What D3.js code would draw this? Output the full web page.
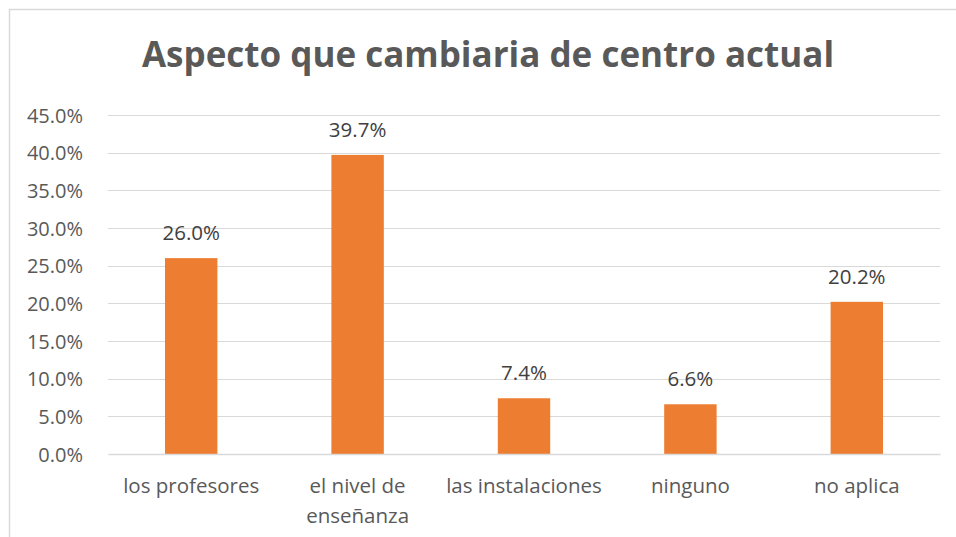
<!DOCTYPE html>
<html>
<head>
    <meta charset="utf-8">
    <style>
        body{ margin: 0; background: white; }
        svg{ display: block; }
        .grid .tick line{ stroke: #d9d9d9; stroke-width: 1px; shape-rendering: crispEdges; }
        .grid path{ stroke-width: 0; }
        .y-axis path, .y-axis line{ display: none; }
        .y-axis text{ font-family: "Open Sans", sans-serif; font-size: 20px; fill: #595959; }
        .x-axis path{ stroke: #d9d9d9; stroke-width: 1.5px; }
        .x-axis line{ display: none; }
        .x-axis text{ font-family: "Open Sans", sans-serif; font-size: 20.5px; fill: #595959; }
    </style>
</head>
<body>
    <svg class="vis"></svg>

    <script src="https://cdn.jsdelivr.net/npm/d3@7"></script>
    <script>
        var categories = ["los profesores", "el nivel de enseñanza", "las instalaciones", "ninguno", "no aplica"];
        var values = [26.0, 39.7, 7.4, 6.6, 20.2];
        var yTicks = [0, 5, 10, 15, 20, 25, 30, 35, 40, 45];
        var title = "Aspecto que cambiaria de centro actual";

        var width = 956;
        var height = 537;
        var margin = {left: 108, right: 16, top: 115, bottom: 83};

        var vis = d3.select("svg.vis")
            .attr("width", width)
            .attr("height", height);

        // chart frame (only top/left edges show in the crop)
        vis.append("rect")
            .attr("x", 9.5).attr("y", 9.5)
            .attr("width", width + 20).attr("height", height + 20)
            .attr("fill", "white")
            .attr("stroke", "#d9d9d9")
            .attr("stroke-width", 1.5);

        var x = d3.scaleBand()
            .domain(categories)
            .range([margin.left, width - margin.right])
            .paddingInner(0.685)
            .paddingOuter(0.3425);

        var y = d3.scaleLinear()
            .domain([0, 45])
            .range([height - margin.bottom, margin.top]);

        vis.append("g")
            .attr("class", "grid")
            .attr("transform", `translate(${margin.left},0)`)
            .call(d3.axisLeft(y).tickValues(yTicks.slice(1))
                .tickSize(-(width - margin.left - margin.right)).tickFormat(""));

        vis.append("g")
            .attr("class", "y-axis")
            .attr("transform", `translate(${margin.left - 22},0)`)
            .call(d3.axisLeft(y).tickValues(yTicks).tickSize(0)
                .tickFormat(d => d.toFixed(1) + "%"))
            .selectAll("text").attr("dy", "0.36em");

        vis.append("g")
            .attr("class", "bars")
            .selectAll("rect")
            .data(values)
            .join("rect")
            .attr("x", (d, i) => x(categories[i]))
            .attr("width", x.bandwidth())
            .attr("y", d => y(d))
            .attr("height", d => y(0) - y(d))
            .attr("fill", "#ed7d31");

        vis.append("g")
            .attr("class", "labels")
            .selectAll("text")
            .data(values)
            .join("text")
            .attr("x", (d, i) => x(categories[i]) + x.bandwidth() / 2)
            .attr("y", d => y(d) - 18)
            .attr("text-anchor", "middle")
            .attr("font-family", "Open Sans, sans-serif")
            .attr("font-size", "20.5px")
            .attr("fill", "#404040")
            .text(d => d.toFixed(1) + "%");

        var xAxis = vis.append("g")
            .attr("class", "x-axis")
            .attr("transform", `translate(0,${y(0)})`)
            .call(d3.axisBottom(x).tickSize(0).tickSizeOuter(0));

        // wrap long category label into two lines
        xAxis.selectAll("text").each(function(d){
            var t = d3.select(this);
            var words = d.split(" ");
            if (d.length > 18){
                var first = words.slice(0, 3).join(" ");
                var second = words.slice(3).join(" ");
                t.text(null);
                t.append("tspan").attr("x", 0).attr("dy", "0.71em").text(first);
                t.append("tspan").attr("x", 0).attr("dy", "30px").text(second);
            }
            t.attr("y", 24.5);
        });

        vis.append("text")
            .attr("x", 488)
            .attr("y", 67)
            .attr("text-anchor", "middle")
            .attr("font-family", "Open Sans, sans-serif")
            .attr("font-weight", "bold")
            .attr("font-size", "35px")
            .attr("fill", "#595959")
            .text(title);
    </script>
</body>
</html>
